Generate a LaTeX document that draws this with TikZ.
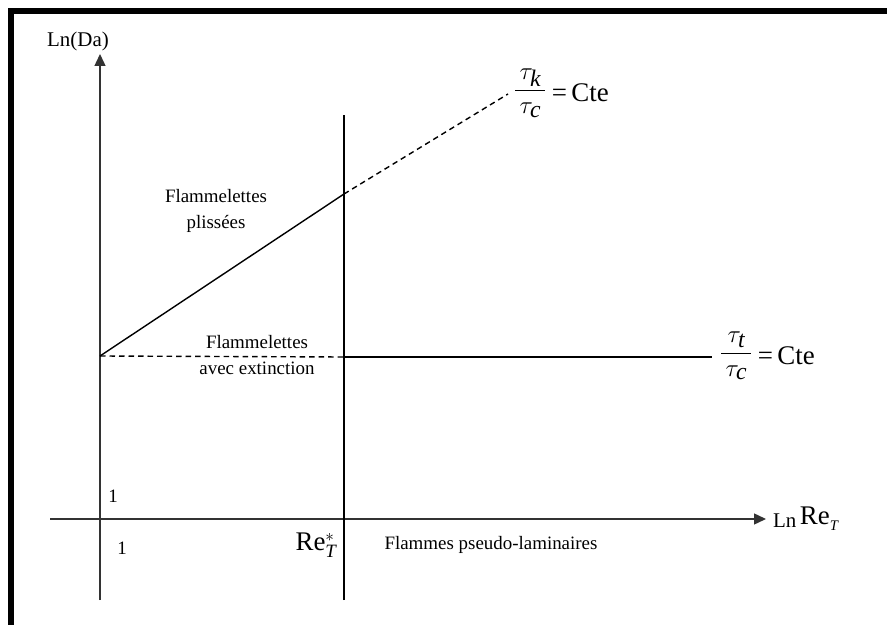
\documentclass[tikz,border=0pt]{standalone}
\usepackage{amsmath}
\usepackage{fontspec}
\setmainfont{Liberation Serif}
\usetikzlibrary{arrows.meta}

\begin{document}
\begin{tikzpicture}[x=1bp,y=-1bp,>={Triangle[length=12bp,width=11bp]},
    axis/.style={draw=black!80, line width=1.4bp},
    curve/.style={line width=1.4bp},
    dash line/.style={curve, dash pattern=on 5.5bp off 4bp},
    lbl/.style={inner sep=0pt, align=center, font=\fontsize{19}{26}\selectfont},
    big/.style={inner sep=0pt, font=\fontsize{27}{30}\selectfont},
    frac/.style={inner sep=0pt, font=\fontsize{34}{36}\selectfont}]
    \useasboundingbox (0,0) rectangle (887,625);
    % frame
    \draw[line width=6bp] (11,625) -- (11,11) -- (887,11);
    % axes
    \coordinate (ybot) at (100,600);
    \coordinate (ytop) at (100,54);
    \coordinate (xleft) at (50,519);
    \coordinate (xright) at (766,519);
    \coordinate (vbot) at (344,600);
    \coordinate (vtop) at (344,115);
    \draw[axis,->] (ybot) -- (ytop);
    \draw[axis,->] (xleft) -- (xright);
    \draw[curve] (vbot) -- (vtop);
    % regime boundaries
    \coordinate (p0) at (100,356);
    \coordinate (p1) at (344,194);
    \coordinate (p2) at (508,94);
    \coordinate (q1) at (344,357);
    \coordinate (q2) at (712,357);
    \draw[curve] (p0) -- (p1);
    \draw[dash line] (p1) -- (p2);
    \draw[dash line] (p0) -- (q1);
    \draw[curve] (q1) -- (q2);
    % labels
    \node[lbl, font=\fontsize{21}{23}\selectfont] (da) at (78,41) {Ln(Da)};
    \node[lbl] (one) at (113,496) {1};
    \node[lbl] (onex) at (122,548) {1};
    \node[big] (rets) at (316,545) {Re$_{\mathit{T}}^{*}$};
    \node[lbl] (pseudo) at (491,545) {Flammes pseudo-laminaires};
    \node[lbl] (pliss) at (216,211) {Flammelettes\\plissées};
    \node[lbl] (ext) at (257,355) {Flammelettes\\avec extinction};
    \node[frac, anchor=west] (tkf) at (514,93) {$\dfrac{\,\tau_{\mathit{k}}\,}{\,\tau_{\mathit{c}}\,}$};
    \node[big, anchor=west] (tk) at ([xshift=5bp]tkf.east) {=\,Cte};
    \node[frac, anchor=west] (ttf) at (720,356) {$\dfrac{\,\tau_{\mathit{t}}\,}{\,\tau_{\mathit{c}}\,}$};
    \node[big, anchor=west] (tt) at ([xshift=5bp]ttf.east) {=\,Cte};
    \node[anchor=west, inner sep=0pt] (lnre) at (773,519) {\fontsize{21}{23}\selectfont Ln\,\raisebox{3bp}{\fontsize{27}{30}\selectfont Re}$_{\mathit{T}}$};
\end{tikzpicture}
\end{document}
